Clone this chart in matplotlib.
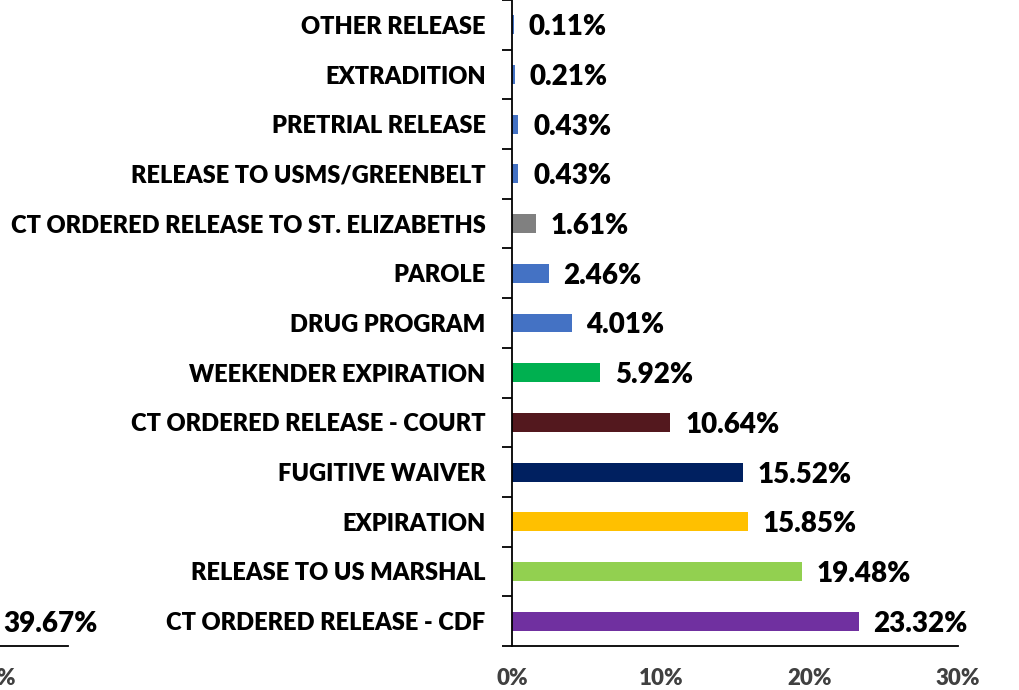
import matplotlib.pyplot as plt

plt.rcParams['font.family'] = ['Lato', 'DejaVu Sans']
plt.rcParams['font.weight'] = 'heavy'

# release types, top to bottom
categories = ['OTHER RELEASE', 'EXTRADITION', 'PRETRIAL RELEASE',
              'RELEASE TO USMS/GREENBELT', 'CT ORDERED RELEASE TO ST. ELIZABETHS',
              'PAROLE', 'DRUG PROGRAM', 'WEEKENDER EXPIRATION',
              'CT ORDERED RELEASE - COURT', 'FUGITIVE WAIVER', 'EXPIRATION',
              'RELEASE TO US MARSHAL', 'CT ORDERED RELEASE - CDF']
values = [0.11, 0.21, 0.43, 0.43, 1.61, 2.46, 4.01, 5.92, 10.64, 15.52, 15.85, 19.48, 23.32]
colors = ['#4472C4', '#4472C4', '#4472C4', '#4472C4', '#808080', '#4472C4', '#4472C4',
          '#00B050', '#53181E', '#002060', '#FFC000', '#92D050', '#7030A0']
xticks = [0, 10, 20, 30]

# the neighbouring chart that is cut off on the left
left_values = [39.67]
left_xticks = [0, 10, 20, 30, 40]

W, H = 1020, 690
fig = plt.figure(figsize=(W / 100, H / 100), dpi=100)

px_per = (958 - 512) / 30.0
bot = (H - 646) / H
hgt = 646 / H

ax = fig.add_axes([512 / W, bot, (958 - 512) / W, hgt])
n = len(categories)
pos = list(range(n))
ax.barh(pos, values, height=0.38, color=colors)
ax.set_ylim(n - 0.5, -0.5)
ax.set_xlim(0, 30)
ax.set_yticks(pos)
ax.set_yticklabels(categories, fontsize=17, fontweight='heavy', color='black')
ax.set_yticks([i - 0.5 for i in range(n + 1)], minor=True)
ax.tick_params(axis='y', which='major', length=0, pad=19)
ax.tick_params(axis='y', which='minor', length=7, width=1.3, color='black')
ax.set_xticks(xticks)
ax.set_xticklabels([f'{t}%' for t in xticks], fontsize=16, fontweight='heavy', color='#404040')
ax.tick_params(axis='x', length=0, pad=16)
for s in ['top', 'right']:
    ax.spines[s].set_visible(False)
for s in ['left', 'bottom']:
    ax.spines[s].set_linewidth(1.3)
for p, v in zip(pos, values):
    ax.text(v + 1.0, p + 0.05, f'{v:.2f}%', va='center', ha='left', fontsize=20,
            fontweight='heavy', color='black')

lw = 45 * px_per
ax2 = fig.add_axes([(68 - lw) / W, bot, lw / W, hgt])
ax2.patch.set_visible(False)  # don't paint over the labels of the main chart
ax2.barh([n - 1], left_values, height=0.38, color='#7030A0')
ax2.set_ylim(n - 0.5, -0.5)
ax2.set_xlim(0, 45)
ax2.set_yticks([])
ax2.set_xticks(left_xticks)
ax2.set_xticklabels([f'{t}%' for t in left_xticks], fontsize=16, fontweight='heavy', color='#404040')
ax2.tick_params(axis='x', length=0, pad=16)
for s in ['top', 'right', 'left']:
    ax2.spines[s].set_visible(False)
ax2.spines['bottom'].set_linewidth(1.3)
for v in left_values:
    ax2.text(v + 1.0, n - 1 + 0.05, f'{v:.2f}%', va='center', ha='left', fontsize=20,
             fontweight='heavy', color='black')

fig.savefig('out.png', dpi=100)
